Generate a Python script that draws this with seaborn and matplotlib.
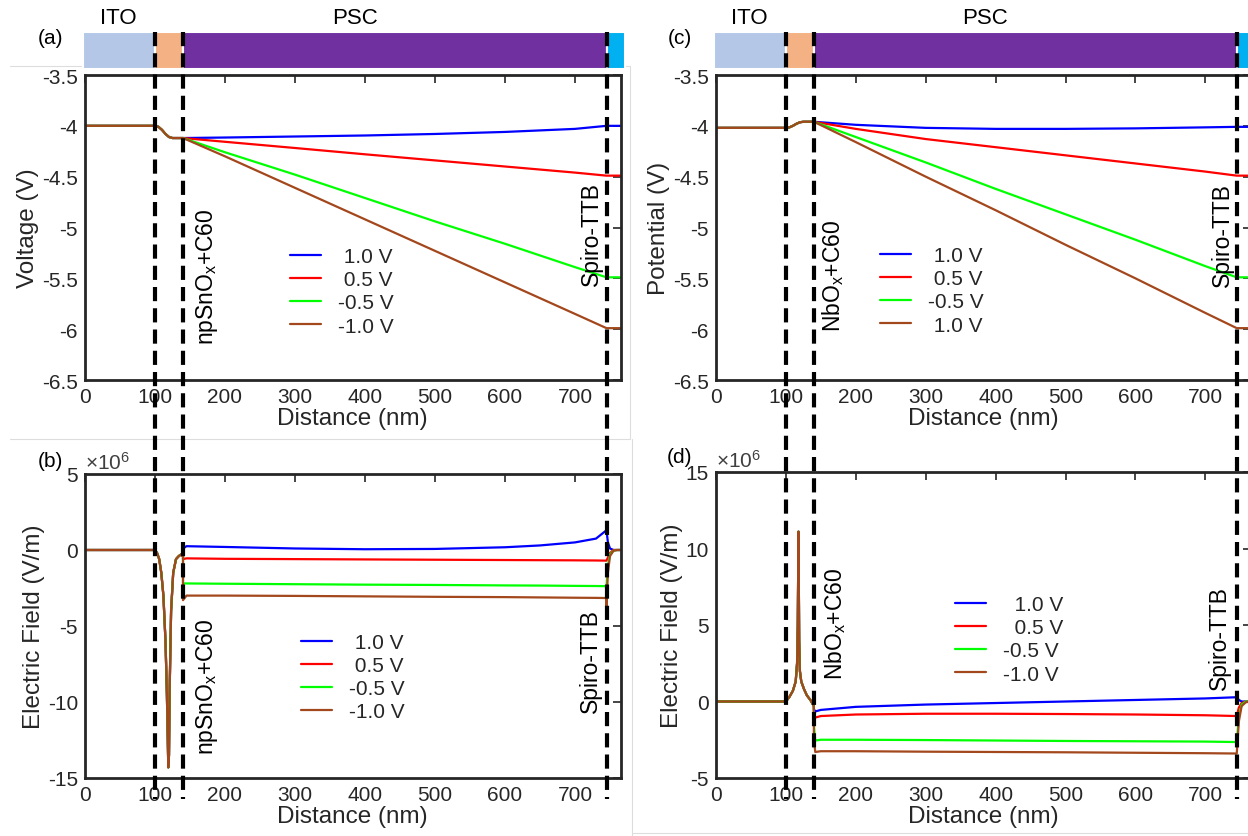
import numpy as np
import pandas as pd
import matplotlib
matplotlib.use("Agg")
import matplotlib.pyplot as plt
import seaborn as sns
from matplotlib.lines import Line2D
from matplotlib.transforms import blended_transform_factory as blend
from matplotlib.ticker import FuncFormatter

# ---------------- data ----------------
# Panel (a): potential, npSnOx device
xa_pre = [0, 100, 105, 110, 115, 120, 125, 130, 140]
va_pre = [-4.0, -4.0, -4.01, -4.04, -4.08, -4.11, -4.12, -4.12, -4.12]
x_bulk = [140, 200, 300, 400, 500, 600, 700, 745, 765]
va_blue = [-4.12, -4.115, -4.105, -4.095, -4.08, -4.06, -4.03, -4.0, -4.0]
va_red = [-4.12, -4.157, -4.218, -4.28, -4.34, -4.40, -4.46, -4.49, -4.49]
va_green = [-4.12, -4.26, -4.48, -4.71, -4.94, -5.16, -5.39, -5.49, -5.49]
va_brown = [-4.12, -4.30, -4.61, -4.92, -5.23, -5.54, -5.85, -5.99, -5.99]

# Panel (c): potential, NbOx device
xc_pre = [0, 100, 105, 110, 115, 120, 125, 130, 140]
vc_pre = [-4.02, -4.02, -4.015, -4.0, -3.98, -3.965, -3.96, -3.96, -3.96]
vc_blue = [-3.96, -3.99, -4.02, -4.03, -4.03, -4.025, -4.015, -4.01, -4.01]
vc_red = [-3.96, -4.03, -4.13, -4.21, -4.29, -4.37, -4.45, -4.49, -4.49]
vc_green = [-3.96, -4.11, -4.36, -4.62, -4.87, -5.12, -5.38, -5.49, -5.49]
vc_brown = [-3.96, -4.16, -4.50, -4.83, -5.17, -5.50, -5.84, -5.99, -5.99]

# Panel (b): electric field (x1e6 V/m), npSnOx device
xb_pre = [0, 100, 103, 106, 109, 112, 115, 117, 119, 120, 121, 123, 126, 130, 134, 137, 140]
eb_pre = [0, 0, -0.2, -0.6, -1.5, -3.0, -6.0, -9.5, -14.3, -13.5, -9.0, -4.0, -1.5, -0.6, -0.4, -0.3, -0.4]
xb_bulk = [140, 145, 200, 300, 400, 500, 600, 650, 700, 730, 745]
eb_blue = [0.1, 0.25, 0.2, 0.1, 0.05, 0.07, 0.18, 0.3, 0.5, 0.75, 1.3]
eb_red = [-0.6, -0.55, -0.58, -0.6, -0.62, -0.64, -0.66, -0.67, -0.68, -0.69, -0.7]
eb_green = [-2.2, -2.2, -2.22, -2.25, -2.28, -2.3, -2.33, -2.34, -2.36, -2.37, -2.38]
eb_brown = [-3.3, -3.0, -3.0, -3.02, -3.05, -3.08, -3.1, -3.12, -3.14, -3.15, -3.16]
xb_post = [745, 747, 750, 755, 760, 765]
eb_blue_post = [1.3, 0.5, 0.1, 0.0, 0.0, 0.0]
eb_red_post = [-0.7, -0.5, -0.2, 0.0, 0.0, 0.0]
eb_green_post = [-2.38, -1.0, -0.3, -0.05, 0.0, 0.0]
eb_brown_post = [-3.7, -1.5, -0.4, -0.05, 0.0, 0.0]

# Panel (d): electric field (x1e6 V/m), NbOx device
xd_pre = [0, 100, 105, 110, 114, 116, 117, 118, 119, 120, 122, 126, 130, 135, 140]
ed_pre = [0, 0, 0.3, 0.7, 1.3, 2.5, 5.0, 11.1, 4.0, 2.0, 1.3, 0.8, 0.4, 0.1, -0.3]
xd_bulk = [140, 142, 150, 200, 300, 400, 500, 600, 700, 745]
ed_blue = [-0.5, -0.65, -0.55, -0.35, -0.2, -0.1, 0.0, 0.1, 0.2, 0.28]
ed_red = [-0.7, -1.05, -0.95, -0.85, -0.8, -0.8, -0.82, -0.85, -0.9, -0.95]
ed_green = [-1.5, -2.55, -2.5, -2.5, -2.52, -2.55, -2.58, -2.6, -2.62, -2.65]
ed_brown = [-2.5, -3.3, -3.25, -3.25, -3.28, -3.3, -3.32, -3.35, -3.38, -3.4]
xd_post = [745, 748, 752, 758, 765]
ed_blue_post = [0.28, 0.1, 0.0, 0.0, 0.0]
ed_red_post = [-0.95, -0.4, -0.1, 0.0, 0.0]
ed_green_post = [-2.65, -1.0, -0.2, 0.0, 0.0]
ed_brown_post = [-3.4, -1.3, -0.3, -0.05, 0.0]

labels_a = [" 1.0 V", " 0.5 V", "-0.5 V", "-1.0 V"]
labels_b = [" 1.0 V", " 0.5 V", "-0.5 V", "-1.0 V"]
labels_c = [" 1.0 V", " 0.5 V", "-0.5 V", " 1.0 V"]
labels_d = ["  1.0 V", "  0.5 V", "-0.5 V", "-1.0 V"]
colors = ["#0000FF", "#FF0000", "#00FF00", "#A3471C"]

layers = ["ITO", "ETL", "PSC", "HTL"]
layer_start = [-3, 100, 140, 745]
layer_end = [100, 140, 745, 772]
layer_colors = ["#B4C7E7", "#F4B183", "#7030A0", "#00B0F0"]
interfaces = [100, 140, 745]

xticks = [0, 100, 200, 300, 400, 500, 600, 700]

# ---------------- style ----------------
sns.set_theme(style="white")
plt.rcParams["font.family"] = ["Liberation Sans", "DejaVu Sans"]
plt.rcParams["mathtext.fontset"] = "custom"
plt.rcParams["mathtext.rm"] = "Liberation Sans"
plt.rcParams["mathtext.it"] = "Liberation Sans:italic"
plt.rcParams["axes.unicode_minus"] = False
TXT = "#262626"

W, H = 1248, 837
fig = plt.figure(figsize=(W / 100, H / 100), dpi=100)


def fpos(left, top, right, bottom):
    return [left / W, 1 - bottom / H, (right - left) / W, (bottom - top) / H]


XMAX = 765
ax_a = fig.add_axes(fpos(85, 76, 85 + XMAX * 0.70, 381))
ax_b = fig.add_axes(fpos(85, 475, 85 + XMAX * 0.70, 779))
ax_c = fig.add_axes(fpos(716, 76, 716 + XMAX * 0.699, 381))
ax_d = fig.add_axes(fpos(716, 473, 716 + XMAX * 0.699, 779))
bar_a = fig.add_axes(fpos(85, 33, 85 + XMAX * 0.70, 70))
bar_c = fig.add_axes(fpos(716, 33, 716 + XMAX * 0.699, 70))

gfmt = FuncFormatter(lambda v, p: "%g" % v)


def plot_series(ax, xs_list, ys_list, labels):
    for xs, ys, lab, col in zip(xs_list, ys_list, labels, colors):
        df = pd.DataFrame({"x": xs, "y": ys})
        sns.lineplot(data=df, x="x", y="y", ax=ax, color=col, label=lab,
                     sort=False, estimator=None, linewidth=1.6)


def style_axes(ax, ylim, yticks, ylabel):
    ax.set_xlim(0, XMAX)
    ax.set_ylim(*ylim)
    ax.set_xticks(xticks)
    ax.set_yticks(yticks)
    ax.xaxis.set_major_formatter(gfmt)
    ax.yaxis.set_major_formatter(gfmt)
    ax.tick_params(direction="in", top=True, right=True, length=6, width=1.2,
                   labelsize=15, colors=TXT, pad=5)
    for s in ax.spines.values():
        s.set_color(TXT)
        s.set_linewidth(2.0)
    ax.set_xlabel("Distance (nm)", fontsize=17.5, color=TXT, labelpad=1)
    ax.set_ylabel(ylabel, fontsize=17.5, color=TXT, labelpad=2)


def legend(ax, anchor, labels):
    lg = ax.legend(loc="upper left", bbox_to_anchor=anchor, frameon=False,
                   fontsize=15, handlelength=1.5, handletextpad=0.8,
                   labelspacing=0.2, borderpad=0, borderaxespad=0)
    for t in lg.get_texts():
        t.set_color(TXT)


# (a)
plot_series(ax_a,
            [xa_pre + x_bulk] * 4,
            [va_pre + va_blue, va_pre + va_red, va_pre + va_green, va_pre + va_brown],
            labels_a)
style_axes(ax_a, (-6.5, -3.5), [-6.5, -6, -5.5, -5, -4.5, -4, -3.5], "Voltage (V)")
legend(ax_a, (0.383, 0.436), labels_a)

# (c)
plot_series(ax_c,
            [xc_pre + x_bulk] * 4,
            [vc_pre + vc_blue, vc_pre + vc_red, vc_pre + vc_green, vc_pre + vc_brown],
            labels_c)
style_axes(ax_c, (-6.5, -3.5), [-6.5, -6, -5.5, -5, -4.5, -4, -3.5], "Potential (V)")
legend(ax_c, (0.307, 0.439), labels_c)

# (b)
plot_series(ax_b,
            [xb_pre + xb_bulk + xb_post] * 4,
            [eb_pre + eb_blue + eb_blue_post, eb_pre + eb_red + eb_red_post,
             eb_pre + eb_green + eb_green_post, eb_pre + eb_brown + eb_brown_post],
            labels_b)
style_axes(ax_b, (-15, 5), [-15, -10, -5, 0, 5], "Electric Field (V/m)")
legend(ax_b, (0.403, 0.477), labels_b)

# (d)
plot_series(ax_d,
            [xd_pre + xd_bulk + xd_post] * 4,
            [ed_pre + ed_blue + ed_blue_post, ed_pre + ed_red + ed_red_post,
             ed_pre + ed_green + ed_green_post, ed_pre + ed_brown + ed_brown_post],
            labels_d)
style_axes(ax_d, (-5, 15), [-5, 0, 5, 10, 15], "Electric Field (V/m)")
legend(ax_d, (0.447, 0.598), labels_d)

for ax in (ax_b, ax_d):
    ax.text(0.0, 1.005, r"$\times10^{6}$", transform=ax.transAxes, ha="left",
            va="bottom", fontsize=15, color="#404040")

# layer bars
for bar, ax in ((bar_a, ax_a), (bar_c, ax_c)):
    bar.set_xlim(0, XMAX)
    bar.set_ylim(0, 1)
    bar.axis("off")
    bar.barh([0.5] * 4, [e - s for s, e in zip(layer_start, layer_end)],
             left=layer_start, height=1.0, color=layer_colors,
             edgecolor="white", linewidth=1.5, clip_on=False)
    tr = blend(bar.transData, fig.transFigure)
    bar.text(48, 1 - 18 / H, "ITO", transform=tr, ha="center", va="center",
             fontsize=16, color="black")
    bar.text(385, 1 - 18 / H, "PSC", transform=tr, ha="center", va="center",
             fontsize=16, color="black")

# vertical rotated layer annotations
ann_kw = dict(rotation=90, ha="center", va="bottom", fontsize=16.5, color="black")
ax_a.text(174, -6.15, r"npSnO$_{\mathregular{x}}$+C60", **ann_kw)
ax_b.text(174, -13.4, r"npSnO$_{\mathregular{x}}$+C60", **ann_kw)
ax_a.text(724, -5.57, "Spiro-TTB", **ann_kw)
ax_b.text(722, -10.66, "Spiro-TTB", **ann_kw)
ax_c.text(167, -6.02, r"NbO$_{\mathregular{x}}$+C60", **ann_kw)
ax_d.text(170, 1.47, r"NbO$_{\mathregular{x}}$+C60", **ann_kw)
ax_c.text(724, -5.58, "Spiro-TTB", **ann_kw)
ax_d.text(720, 0.82, "Spiro-TTB", **ann_kw)

# interface dashed lines spanning top and bottom panels
for ax in (ax_a, ax_c):
    tr = blend(ax.transData, fig.transFigure)
    for xi in interfaces:
        fig.add_artist(Line2D([xi, xi], [1 - 33 / H, 1 - 800 / H], transform=tr,
                              color="black", linewidth=3.0,
                              dashes=(3.4, 1.7), zorder=10))

# panel letters
for s, (px, py) in {"(a)": (50, 38), "(b)": (50, 462),
                    "(c)": (680, 38), "(d)": (680, 458)}.items():
    fig.text(px / W, 1 - py / H, s, ha="center", va="center", fontsize=15, color="black")

# faint composite borders
for (x0, y0, x1, y1) in [(10, 67, 630, 67), (630, 67, 630, 440), (10, 440, 630, 440),
                         (632, 440, 632, 837), (632, 834, 1248, 834)]:
    fig.add_artist(Line2D([x0 / W, x1 / W], [1 - y0 / H, 1 - y1 / H],
                          transform=fig.transFigure, color="#DDDDDD", linewidth=0.8, zorder=0))

fig.savefig("out.png", dpi=100)
